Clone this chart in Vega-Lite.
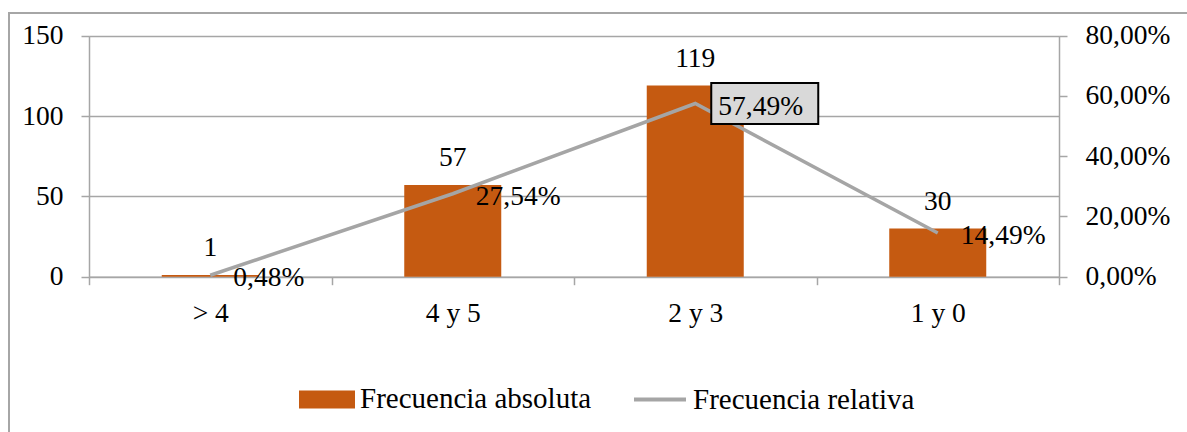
{
  "$schema": "https://vega.github.io/schema/vega-lite/v6.json",
  "width": 1182,
  "height": 425,
  "autosize": {"type": "none"},
  "padding": {"left": 9, "top": 13, "right": -4, "bottom": -6},
  "config": {
    "locale": {"number": {"decimal": ",", "thousands": ".", "grouping": [3], "currency": ["", " €"]}},
    "view": {"stroke": "#A6A6A6", "strokeWidth": 2},
    "font": "Liberation Serif",
    "axis": {
      "labelFont": "Liberation Serif",
      "labelFontSize": 27.5,
      "labelColor": "#000000",
      "domainColor": "#A6A6A6",
      "domainWidth": 1.5,
      "tickColor": "#A6A6A6",
      "tickWidth": 1.5,
      "gridColor": "#A6A6A6",
      "gridWidth": 1.5,
      "tickSize": 8,
      "labelPadding": 18,
      "title": null
    }
  },
  "data": {
    "values": [
      {"cat": "> 4", "abs": 1, "rel": 0.0048},
      {"cat": "4 y 5", "abs": 57, "rel": 0.2754},
      {"cat": "2 y 3", "abs": 119, "rel": 0.5749},
      {"cat": "1 y 0", "abs": 30, "rel": 0.1449}
    ]
  },
  "encoding": {
    "x": {
      "field": "cat",
      "type": "nominal",
      "sort": null,
      "scale": {"range": [80, 1050], "paddingInner": 0, "paddingOuter": 0},
      "axis": {"orient": "bottom", "offset": -161.3, "tickBand": "extent", "labelAngle": 0, "labelPadding": 15, "grid": false}
    }
  },
  "layer": [
    {
      "encoding": {
        "y": {
          "field": "abs",
          "type": "quantitative",
          "scale": {"domain": [0, 150], "range": [263.7, 22.7], "nice": false, "zero": true},
          "axis": {"orient": "left", "offset": -80, "values": [0, 50, 100, 150], "grid": true}
        }
      },
      "layer": [
        {
          "mark": {"type": "bar", "width": {"band": 0.4}},
          "encoding": {
            "color": {
              "datum": "Frecuencia absoluta",
              "type": "nominal",
              "scale": {"domain": ["Frecuencia absoluta", "Frecuencia relativa"], "range": ["#C55A11", "#A5A5A5"]},
              "legend": {
                "orient": "none",
                "legendX": 290,
                "legendY": 358,
                "direction": "horizontal",
                "title": null,
                "labelFont": "Liberation Serif",
                "labelFontSize": 29,
                "labelColor": "#000000",
                "labelLimit": 400,
                "symbolSize": 2704,
                "labelOffset": 5,
                "columnPadding": 34,
                "padding": 0,
                "encode": {
                  "symbols": {
                    "update": {
                      "shape": {"signal": "datum.value === 'Frecuencia absoluta' ? 'M-1,-0.27H1V0.27H-1Z' : 'M-1,0H1'"},
                      "fill": {"signal": "datum.value === 'Frecuencia absoluta' ? '#C55A11' : 'transparent'"},
                      "stroke": {"signal": "datum.value === 'Frecuencia absoluta' ? 'transparent' : '#A5A5A5'"},
                      "strokeWidth": {"value": 4},
                      "opacity": {"value": 1},
                      "fillOpacity": {"value": 1}
                    }
                  }
                }
              }
            }
          }
        },
        {
          "mark": {"type": "text", "baseline": "alphabetic", "dy": -19, "fontSize": 27.5, "font": "Liberation Serif", "color": "#000000"},
          "encoding": {"text": {"field": "abs", "type": "quantitative"}}
        }
      ]
    },
    {
      "encoding": {
        "y": {
          "field": "rel",
          "type": "quantitative",
          "scale": {"domain": [0, 0.8], "range": [263.7, 22.7], "nice": false, "zero": true},
          "axis": {"orient": "right", "offset": -132, "values": [0, 0.2, 0.4, 0.6, 0.8], "format": ".2%", "grid": false}
        }
      },
      "layer": [
        {
          "mark": {"type": "line", "strokeWidth": 3.5, "strokeCap": "butt"},
          "encoding": {
            "color": {
              "datum": "Frecuencia relativa",
              "type": "nominal",
              "scale": {"domain": ["Frecuencia absoluta", "Frecuencia relativa"], "range": ["#C55A11", "#A5A5A5"]},
              "legend": {
                "orient": "none",
                "legendX": 290,
                "legendY": 358,
                "direction": "horizontal",
                "title": null,
                "labelFont": "Liberation Serif",
                "labelFontSize": 29,
                "labelColor": "#000000",
                "labelLimit": 400,
                "symbolSize": 2704,
                "labelOffset": 5,
                "columnPadding": 34,
                "padding": 0,
                "encode": {
                  "symbols": {
                    "update": {
                      "shape": {"signal": "datum.value === 'Frecuencia absoluta' ? 'M-1,-0.27H1V0.27H-1Z' : 'M-1,0H1'"},
                      "fill": {"signal": "datum.value === 'Frecuencia absoluta' ? '#C55A11' : 'transparent'"},
                      "stroke": {"signal": "datum.value === 'Frecuencia absoluta' ? 'transparent' : '#A5A5A5'"},
                      "strokeWidth": {"value": 4},
                      "opacity": {"value": 1},
                      "fillOpacity": {"value": 1}
                    }
                  }
                }
              }
            }
          }
        },
        {
          "transform": [{"filter": "datum.cat === '2 y 3'"}],
          "mark": {
            "type": "point",
            "shape": "M-1,-0.383H1V0.383H-1Z",
            "size": 11449,
            "filled": true,
            "fill": "#D9D9D9",
            "stroke": "#000000",
            "strokeWidth": 2,
            "opacity": 1,
            "fillOpacity": 1,
            "xOffset": 69.5
          }
        },
        {
          "mark": {"type": "text", "align": "left", "baseline": "alphabetic", "dx": 23, "dy": 11, "fontSize": 27.5, "font": "Liberation Serif", "color": "#000000"},
          "encoding": {"text": {"field": "rel", "type": "quantitative", "format": ".2%"}}
        }
      ]
    }
  ],
  "resolve": {"scale": {"y": "independent"}}
}
